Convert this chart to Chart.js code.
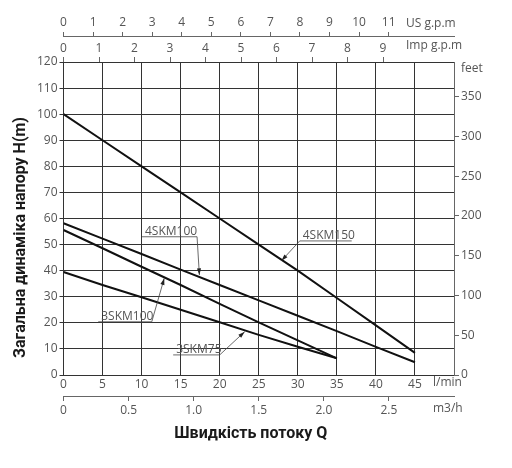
<!DOCTYPE html>
<html>
<head>
<meta charset="utf-8">
<script src="https://cdn.jsdelivr.net/npm/chart.js@4"></script>
<style>
  body { margin: 0; background: #fff; }
  #wrap { width: 512px; height: 468px; }
</style>
</head>
<body>
<div id="wrap"><canvas id="pumpChart"></canvas></div>
<script>
// flow, l/min
var flow = [0, 5, 10, 15, 20, 25, 30, 35, 40, 45];
// head, m
var head4SKM150 = [100, 90, 80, 70, 60, 50, 40, 29.5, 19, 8.5];
var head4SKM100 = [58.2, 52.3, 46.4, 40.4, 34.5, 28.6, 22.7, 16.8, 10.8, 4.9];
var head3SKM100 = [55.6, 48.6, 41.5, 34.5, 27.3, 20.2, 13.3, 6.4];
var head3SKM75 = [39.5, 34.5, 29.8, 25, 20.2, 15.4, 10.8, 6.4];

var seriesNames = ['4SKM150', '4SKM100', '3SKM100', '3SKM75'];
// label text start, underline height, underline end, arrow tip (l/min, m)
var labelStartX = [30.5, 10.3, 4.7, 14.3];
var labelLineY = [51.4, 53.0, 20.4, 7.7];
var labelEndX = [36.9, 17.1, 11.3, 20.0];
var arrowTipX = [27.9, 17.4, 12.9, 23.2];
var arrowTipY = [43.8, 38.3, 37.1, 16.6];
var leaderFromStart = [true, false, false, false];

var LPM_PER_US_GPM = 3.785;
var LPM_PER_IMP_GPM = 4.546;
var FT_PER_M = 3.28084;

var tickColor = '#555';
var gridColor = '#333';
var tickFont = { family: "'Open Sans', sans-serif", size: 12 };

function pts(ys) {
  var out = [];
  for (var i = 0; i < ys.length; i++) {
    out.push({ x: flow[i], y: ys[i] });
  }
  return out;
}

function lineSet(name, ys) {
  return {
    label: name,
    data: pts(ys),
    borderColor: '#111',
    borderWidth: 2,
    pointRadius: 0,
    tension: 0,
    fill: false
  };
}

var extras = {
  id: 'extras',
  afterDraw: function(chart) {
    var ctx = chart.ctx;
    var area = chart.chartArea;
    var sx = chart.scales.x;
    var sy = chart.scales.y;
    ctx.save();

    // curve labels with leaders
    ctx.font = "12px 'Open Sans', sans-serif";
    ctx.fillStyle = tickColor;
    ctx.strokeStyle = '#444';
    ctx.lineWidth = 0.8;
    for (var i = 0; i < seriesNames.length; i++) {
      var x0 = sx.getPixelForValue(labelStartX[i]);
      var x1 = sx.getPixelForValue(labelEndX[i]);
      var yl = sy.getPixelForValue(labelLineY[i]);
      var tx = sx.getPixelForValue(arrowTipX[i]);
      var ty = sy.getPixelForValue(arrowTipY[i]);
      ctx.textAlign = 'left';
      ctx.textBaseline = 'alphabetic';
      ctx.fillText(seriesNames[i], x0 + 1, yl - 2);
      ctx.beginPath();
      ctx.moveTo(x0 - 2, yl);
      ctx.lineTo(x1, yl);
      var fx = leaderFromStart[i] ? x0 - 2 : x1;
      ctx.moveTo(fx, yl);
      ctx.lineTo(tx, ty);
      ctx.stroke();
      var ang = Math.atan2(ty - yl, tx - fx);
      ctx.beginPath();
      ctx.moveTo(tx, ty);
      ctx.lineTo(tx - 7 * Math.cos(ang - 0.3), ty - 7 * Math.sin(ang - 0.3));
      ctx.lineTo(tx - 7 * Math.cos(ang + 0.3), ty - 7 * Math.sin(ang + 0.3));
      ctx.closePath();
      ctx.fillStyle = '#222';
      ctx.fill();
      ctx.fillStyle = tickColor;
    }

    // unit labels
    ctx.textAlign = 'left';
    ctx.textBaseline = 'middle';
    ctx.fillText('US g.p.m', area.right - 48, 24);
    ctx.fillText('Imp g.p.m', area.right - 48, 46);
    ctx.fillText('feet', area.right + 7, area.top + 7);
    ctx.fillText('l/min', area.right - 21, area.bottom + 8);
    ctx.fillText('m3/h', area.right - 21, area.bottom + 34);

    // axis titles
    ctx.fillStyle = '#1a1a1a';
    ctx.font = "bold 16px Roboto, sans-serif";
    ctx.textAlign = 'center';
    ctx.fillText('Швидкість потоку Q', (area.left + area.right) / 2 - 8, 434);
    ctx.translate(21, (area.top + area.bottom) / 2 + 19);
    ctx.rotate(-Math.PI / 2);
    ctx.fillText('Загальна динаміка напору H(m)', 0, 0);
    ctx.restore();
  }
};

function keepTicks(test) {
  return function(scale) {
    scale.ticks = scale.ticks.filter(function(t) { return test(t.value); });
  };
}

var chart = new Chart(document.getElementById('pumpChart'), {
  type: 'line',
  data: {
    datasets: [
      lineSet('4SKM150', head4SKM150),
      lineSet('4SKM100', head4SKM100),
      lineSet('3SKM100', head3SKM100),
      lineSet('3SKM75', head3SKM75)
    ]
  },
  options: {
    responsive: true,
    maintainAspectRatio: false,
    animation: false,
    layout: { padding: 0 },
    plugins: {
      legend: { display: false },
      tooltip: { enabled: false }
    },
    scales: {
      x: {
        type: 'linear', position: 'bottom', weight: 0,
        min: 0, max: 50,
        ticks: {
          stepSize: 5, padding: 2, color: tickColor, font: tickFont, maxRotation: 0,
          callback: function(v) { return v <= 45 ? v : ''; }
        },
        grid: { color: gridColor, drawTicks: false },
        border: { color: gridColor },
        afterFit: function(s) { s.height = 21; }
      },
      xM3: {
        type: 'linear', position: 'bottom', weight: 1,
        min: 0, max: 3,
        afterBuildTicks: keepTicks(function(v) { return v <= 2.5; }),
        ticks: { stepSize: 0.5, padding: 2, color: tickColor, font: tickFont, maxRotation: 0 },
        grid: { drawOnChartArea: false, tickLength: 5, color: '#666' },
        border: { color: '#666' },
        afterFit: function(s) { s.height = 72; }
      },
      xImp: {
        type: 'linear', position: 'top', weight: 0,
        min: 0, max: 50 / LPM_PER_IMP_GPM,
        afterBuildTicks: keepTicks(function(v) { return v <= 10 && v % 1 === 0; }),
        ticks: {
          stepSize: 1, padding: 1, color: tickColor, font: tickFont, maxRotation: 0,
          callback: function(v) { return v <= 9 ? v : ''; }
        },
        grid: { drawOnChartArea: false, tickLength: 5, color: '#666' },
        border: { color: gridColor },
        afterFit: function(s) { s.height = 26; }
      },
      xUS: {
        type: 'linear', position: 'top', weight: 1,
        min: 0, max: 50 / LPM_PER_US_GPM,
        afterBuildTicks: keepTicks(function(v) { return v <= 11 && v % 1 === 0; }),
        ticks: { stepSize: 1, padding: 2, color: tickColor, font: tickFont, maxRotation: 0 },
        grid: { drawOnChartArea: false, tickLength: 4, color: '#666' },
        border: { color: '#666' },
        afterFit: function(s) { s.height = 36; }
      },
      y: {
        type: 'linear', position: 'left',
        min: 0, max: 120,
        ticks: { stepSize: 10, padding: 2, color: tickColor, font: tickFont },
        grid: { color: gridColor, tickLength: 4 },
        border: { color: gridColor },
        afterFit: function(s) { s.width = 63.5; }
      },
      yFt: {
        type: 'linear', position: 'right',
        min: 0, max: 120 * FT_PER_M,
        afterBuildTicks: keepTicks(function(v) { return v % 50 === 0; }),
        ticks: { stepSize: 50, padding: 2, color: tickColor, font: tickFont },
        grid: { drawOnChartArea: false, tickLength: 5, color: '#666' },
        border: { color: '#666' },
        afterFit: function(s) { s.width = 58; }
      }
    }
  },
  plugins: [extras]
});
</script>
</body>
</html>
